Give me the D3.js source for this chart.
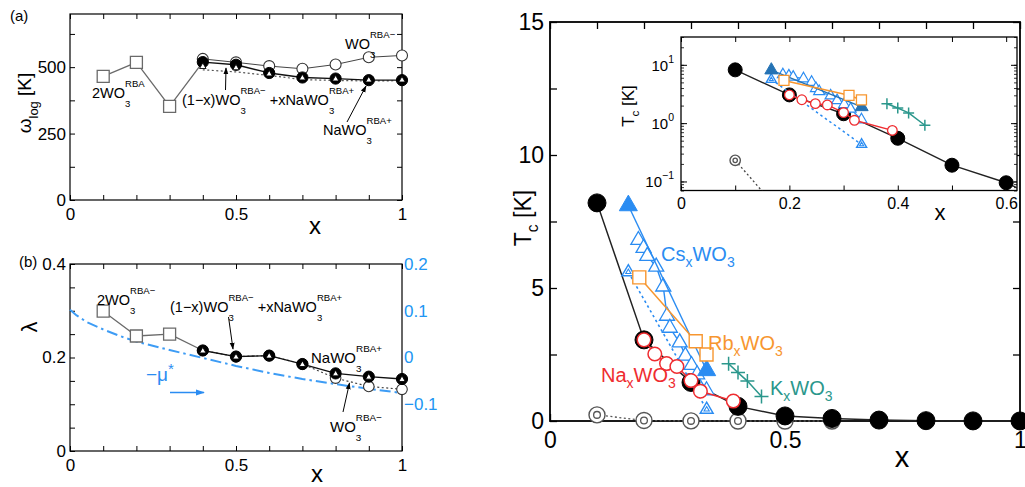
<!DOCTYPE html>
<html>
<head>
<meta charset="utf-8">
<script src="https://cdn.jsdelivr.net/npm/d3@7"></script>
<style>
  body { margin: 0; background: #fff; }
  svg { display: block; font-family: "Liberation Sans", Arial, Helvetica, sans-serif; }
</style>
</head>
<body>
<svg id="fig" width="1025" height="487"></svg>
<script>
// ---------------- data ----------------
// (a) logarithmic-average phonon frequency ω_log [K]
const aSqX = [0.1, 0.2, 0.3, 0.4];
const aSqW = [465, 518, 352, 519];              // 2WO3^RBA (markers on first three)
const aX = [0.4, 0.5, 0.6, 0.7, 0.8, 0.9, 1.0];
const aWminus = [531, 518, 504, 494, 510, 537, 544];   // WO3^RBA-
const aWmix = [519, 509, 478, 461, 457, 451, 451];     // (1-x)WO3^RBA- + xNaWO3^RBA+
const aWplus = [502, 497, 474, 459, 455, 451, 451];    // NaWO3^RBA+ (triangles)
const aWdot = [490, 482, 469, 453, 450, 448, 449];     // dotted curve

// (b) electron-phonon coupling λ and -μ*
const bSqX = [0.1, 0.2, 0.3, 0.4];
const bSqL = [0.299, 0.246, 0.25, 0.215];
const bX = [0.4, 0.5, 0.6, 0.7, 0.8, 0.9, 1.0];
const bLmix = [0.215, 0.202, 0.204, 0.186, 0.166, 0.159, 0.154];
const bLminus = [0.215, 0.202, 0.204, 0.186, 0.156, 0.138, 0.132];
const muX = [0, 0.02, 0.05, 0.1, 0.15, 0.2, 0.3, 0.4, 0.5, 0.6, 0.7, 0.8, 0.9, 1.0];
const muV = [0.102, 0.09, 0.076, 0.06, 0.046, 0.034, 0.016, -0.001, -0.018, -0.033, -0.046, -0.057, -0.067, -0.076];

// Tc [K] versus x
const blkX = [0.1, 0.2, 0.3, 0.4, 0.5, 0.6, 0.7, 0.8, 0.9, 1.0];
const blkT = [8.2, 3.05, 1.45, 0.55, 0.19, 0.095, 0.035, 0.012, 0.004, 0.0015];
const grX = [0.1, 0.2, 0.3, 0.4, 0.5, 0.6];
const grT = [0.23, 0.02, 0.004, 0.001, 0.0003, 0.0001];
const naX = [0.2, 0.223, 0.248, 0.27, 0.3, 0.32, 0.39];
const naT = [3.05, 2.52, 2.16, 2.05, 1.52, 1.12, 0.75];
const csFillX = [1 / 6, 1 / 3];
const csFillT = [8.1, 1.9];
const csOpenX = [0.188, 0.199, 0.207, 0.226, 0.241, 0.249, 0.255, 0.276, 0.288, 0.301, 0.313, 0.333];
const csOpenT = [6.8, 6.5, 6.2, 5.8, 5.05, 3.95, 3.5, 2.95, 2.45, 2.1, 1.75, 1.15];
const csDotX = [1 / 6, 1 / 3];
const csDotT = [5.6, 0.43];
const rbX = [0.19, 0.31, 0.333];
const rbT = [5.4, 3.0, 2.5];
const kX = [0.38, 0.40, 0.42, 0.45];
const kT = [2.15, 1.82, 1.5, 0.92];

// ticks and labels
const xTicks10 = [0, 0.1, 0.2, 0.3, 0.4, 0.5, 0.6, 0.7, 0.8, 0.9, 1];
const xLabels = [0, 0.5, 1];
const aYTicks = [0, 125, 250, 375, 500, 625];
const aYLabels = [0, 250, 500];
const bYTicks = [0, 0.05, 0.1, 0.15, 0.2, 0.25, 0.3, 0.35, 0.4];
const bYLabels = [0, 0.2, 0.4];
const bY2Ticks = [-0.2, -0.15, -0.1, -0.05, 0, 0.05, 0.1, 0.15, 0.2];
const bY2Labels = [-0.1, 0, 0.1, 0.2];
const mYTicks = [0, 2.5, 5, 7.5, 10, 12.5, 15];
const mYLabels = [0, 5, 10, 15];
const iXTicks = [0, 0.1, 0.2, 0.3, 0.4, 0.5, 0.6];
const iXLabels = [0, 0.2, 0.4, 0.6];
const iYLabels = [0.1, 1, 10];
const iYExp = ["−1", "0", "1"];

// colours
const BLUE = "#2a8cf2", DBLUE = "#2472b4", ORANGE = "#f7962f", RED = "#ef2c30",
      TEAL = "#2b978c", GRAY = "#6a6a6a", AXBLUE = "#2196f3";

// ---------------- helpers ----------------
const svg = d3.select("#fig");
const defs = svg.append("defs");
const fmt = d3.format("~g");
const pair = (xs, ys) => xs.map((x, i) => [x, ys[i]]);

function arrowMarker(id, color, size) {
  defs.append("marker").attr("id", id).attr("viewBox", "0 0 10 10")
    .attr("refX", 9).attr("refY", 5).attr("markerWidth", size).attr("markerHeight", size)
    .attr("markerUnits", "userSpaceOnUse").attr("orient", "auto")
    .append("path").attr("d", "M0,1.5 L10,5 L0,8.5 z").attr("fill", color);
}
arrowMarker("arrK", "#000", 7);
arrowMarker("arrB", BLUE, 9);

// text with sub/superscripts; "back" stacks a superscript over the preceding subscript
function rich(g, x, y, parts, o) {
  const size = o.size, subK = o.subK ?? 0.3, supK = o.supK ?? 0.55, small = o.small ?? 0.68;
  const t = g.append("text").attr("x", x).attr("y", y).attr("font-size", size)
    .attr("fill", o.color || "#000").attr("text-anchor", o.anchor || "start");
  let cur = 0, prevLen = 0;
  parts.forEach(p => {
    const ts = t.append("tspan").text(p.t);
    let target = 0;
    if (p.s === "sub") { target = size * subK; ts.attr("font-size", size * small); }
    else if (p.s === "sup") { target = -size * supK; ts.attr("font-size", size * small); }
    ts.attr("dy", target - cur);
    cur = target;
    if (p.back) ts.attr("dx", -prevLen);
    prevLen = ts.node().getComputedTextLength();
  });
  return t;
}

function axis(g, gen, tr, o) {
  const a = g.append("g").attr("transform", tr).call(gen);
  a.select(".domain").remove();
  a.attr("font-family", null).attr("font-size", o.size || 16);
  a.selectAll("line").attr("stroke", o.stroke || "#000").attr("stroke-width", o.sw || 1);
  a.selectAll("text").attr("fill", o.color || "#000");
  return a;
}
const lbl = arr => d => arr.some(v => Math.abs(v - d) < 1e-9) ? fmt(d).replace("-", "−") : "";

function line(g, data, sx, sy, stroke, sw, dash) {
  g.append("path").datum(data)
    .attr("d", d3.line().x(d => sx(d[0])).y(d => sy(d[1])))
    .attr("fill", "none").attr("stroke", stroke).attr("stroke-width", sw)
    .attr("stroke-dasharray", dash || null).attr("stroke-linejoin", "round");
}
function circles(g, data, sx, sy, r, fill, stroke, sw) {
  g.selectAll(null).data(data).enter().append("circle")
    .attr("cx", d => sx(d[0])).attr("cy", d => sy(d[1])).attr("r", r)
    .attr("fill", fill).attr("stroke", stroke).attr("stroke-width", sw);
}
function symbols(g, data, sx, sy, type, side, fill, stroke, sw, dy) {
  const area = type === d3.symbolTriangle ? Math.sqrt(3) / 4 * side * side : side * side;
  g.selectAll(null).data(data).enter().append("path")
    .attr("d", d3.symbol(type, area))
    .attr("transform", d => `translate(${sx(d[0])},${sy(d[1]) + (dy || 0)})`)
    .attr("fill", fill).attr("stroke", stroke).attr("stroke-width", sw);
}
function bullseye(g, data, sx, sy, r, color) {
  circles(g, data, sx, sy, r, "#fff", color, 1.4);
  circles(g, data, sx, sy, r * 0.42, "#fff", color, 1.3);
}
function dotTri(g, data, sx, sy, side, color) {
  symbols(g, data, sx, sy, d3.symbolTriangle, side, "#fff", color, 1.4);
  symbols(g, data, sx, sy, d3.symbolTriangle, side * 0.4, "#fff", color, 1.1);
}
function crosses(g, data, sx, sy, h, color) {
  g.selectAll(null).data(data).enter().append("path")
    .attr("d", `M${-h},0H${h}M0,${-h}V${h}`)
    .attr("transform", d => `translate(${sx(d[0])},${sy(d[1])})`)
    .attr("stroke", color).attr("stroke-width", 1.5).attr("fill", "none");
}
function frame(g, x0, y0, x1, y1, sw, fill) {
  g.append("rect").attr("x", x0).attr("y", y0).attr("width", x1 - x0).attr("height", y1 - y0)
    .attr("fill", fill || "none").attr("stroke", "#000").attr("stroke-width", sw);
}
function arrow(g, x1, y1, x2, y2, color, sw, id) {
  g.append("line").attr("x1", x1).attr("y1", y1).attr("x2", x2).attr("y2", y2)
    .attr("stroke", color).attr("stroke-width", sw).attr("marker-end", `url(#${id})`);
}
const WO = (pre, sup) => [{ t: pre + "WO" }, { t: "3", s: "sub" }, { t: sup, s: "sup", back: true }];

// ---------------- panel (a) ----------------
const xA = d3.scaleLinear().domain([0, 1]).range([70, 402]);
const yA = d3.scaleLinear().domain([0, 700]).range([200, 14]);
const gA = svg.append("g");
frame(gA, 70, 14, 402, 200, 1.2);
axis(gA, d3.axisBottom(xA).tickValues(xTicks10).tickSize(-5).tickPadding(8).tickFormat(lbl(xLabels)), "translate(0,200)", { size: 17 });
axis(gA, d3.axisTop(xA).tickValues(xTicks10).tickSize(-5).tickFormat(""), "translate(0,14)", {});
axis(gA, d3.axisLeft(yA).tickValues(aYTicks).tickSize(-5).tickPadding(4).tickFormat(lbl(aYLabels)), "translate(70,0)", { size: 17 });
axis(gA, d3.axisRight(yA).tickValues(aYTicks).tickSize(-5).tickFormat(""), "translate(402,0)", {});

line(gA, pair(aSqX, aSqW), xA, yA, GRAY, 1.3);
symbols(gA, pair(aSqX.slice(0, 3), aSqW.slice(0, 3)), xA, yA, d3.symbolSquare, 12, "#fff", GRAY, 1.3);
line(gA, pair(aX, aWminus), xA, yA, "#444", 1);
line(gA, pair(aX, aWdot), xA, yA, "#555", 1.2, "2,2.5");
circles(gA, pair(aX, aWminus), xA, yA, 5.5, "#fff", "#333", 1.1);
line(gA, pair(aX, aWmix), xA, yA, "#111", 1.3);
circles(gA, pair(aX, aWmix), xA, yA, 5.6, "#000", "#000", 1);
symbols(gA, pair(aX, aWplus), xA, yA, d3.symbolTriangle, 6.5, "#fff", "#000", 0.9);

gA.append("text").attr("x", 10).attr("y", 21).attr("font-size", 15).text("(a)");
gA.append("text").attr("x", 315).attr("y", 234).attr("font-size", 24).attr("text-anchor", "middle").text("x");
{
  const gl = gA.append("g").attr("transform", "translate(31,103) rotate(-90)");
  rich(gl, 0, 0, [{ t: "ω" }, { t: "log", s: "sub" }, { t: " [K]" }], { size: 19, anchor: "middle", subK: 0.35 });
}
rich(gA, 92, 98, WO("2", "RBA"), { size: 14.5, subK: 0.6, supK: 0.75, small: 0.66 });
rich(gA, 345, 49, WO("", "RBA−"), { size: 14.5, subK: 0.6, supK: 0.75, small: 0.66 });
rich(gA, 182, 105, [{ t: "(1−x)WO" }, { t: "3", s: "sub" }, { t: "RBA−", s: "sup", back: true },
  { t: " +xNaWO" }, { t: "3", s: "sub" }, { t: "RBA+", s: "sup", back: true }],
  { size: 14.5, subK: 0.6, supK: 0.75, small: 0.66 });
rich(gA, 323, 135, WO("Na", "RBA+"), { size: 14.5, subK: 0.6, supK: 0.75, small: 0.66 });
arrow(gA, 225.5, 90, 226, 68, "#000", 1, "arrK");
arrow(gA, 347, 122, 366, 86, "#000", 1, "arrK");

// ---------------- panel (b) ----------------
const xB = d3.scaleLinear().domain([0, 1]).range([70, 402]);
const yB = d3.scaleLinear().domain([0, 0.4]).range([451, 264]);
const yB2 = d3.scaleLinear().domain([-0.2, 0.2]).range([451, 264]);
const gB = svg.append("g");
defs.append("clipPath").attr("id", "clipLeft").append("rect")
  .attr("x", 0).attr("y", 0).attr("width", 423).attr("height", 487);
frame(gB, 70, 264, 402, 451, 1.2);
axis(gB, d3.axisBottom(xB).tickValues(xTicks10).tickSize(-5).tickPadding(8).tickFormat(lbl(xLabels)), "translate(0,451)", { size: 17 });
axis(gB, d3.axisTop(xB).tickValues(xTicks10).tickSize(-5).tickFormat(""), "translate(0,264)", {});
axis(gB, d3.axisLeft(yB).tickValues(bYTicks).tickSize(-5).tickPadding(4).tickFormat(lbl(bYLabels)), "translate(70,0)", { size: 17 });
axis(gB, d3.axisRight(yB2).tickValues(bY2Ticks).tickSize(-5).tickPadding(2).tickFormat(lbl(bY2Labels)), "translate(402,0)", { size: 17, color: AXBLUE })
  .attr("clip-path", "url(#clipLeft)");

line(gB, pair(muX, muV), xB, yB2, "#3d9cf5", 2, "11,4,2.5,4");
line(gB, pair(bSqX, bSqL), xB, yB, GRAY, 1.3);
symbols(gB, pair(bSqX.slice(0, 3), bSqL.slice(0, 3)), xB, yB, d3.symbolSquare, 12, "#fff", GRAY, 1.3);
line(gB, pair(bX, bLminus), xB, yB, "#444", 1.2, "2,2.5");
circles(gB, pair(bX, bLminus), xB, yB, 5.3, "#fff", "#333", 1.1);
line(gB, pair(bX, bLmix), xB, yB, "#111", 1.3);
circles(gB, pair(bX, bLmix), xB, yB, 5.6, "#000", "#000", 1);
symbols(gB, pair(bX, bLmix), xB, yB, d3.symbolTriangle, 6.5, "#fff", "#000", 0.9, 0.6);

gB.append("text").attr("x", 19).attr("y", 267).attr("font-size", 15).text("(b)");
gB.append("text").attr("x", 317).attr("y", 482).attr("font-size", 24).attr("text-anchor", "middle").text("x");
gB.append("text").attr("transform", "translate(37,327) rotate(-90)").attr("font-size", 22)
  .attr("text-anchor", "middle").text("λ");
rich(gB, 97, 305, WO("2", "RBA−"), { size: 14.5, subK: 0.6, supK: 0.75, small: 0.66 });
rich(gB, 170, 312, [{ t: "(1−x)WO" }, { t: "3", s: "sub" }, { t: "RBA−", s: "sup", back: true },
  { t: " +xNaWO" }, { t: "3", s: "sub" }, { t: "RBA+", s: "sup", back: true }],
  { size: 14.5, subK: 0.6, supK: 0.75, small: 0.66 });
rich(gB, 311, 363, WO("Na", "RBA+"), { size: 15, subK: 0.6, supK: 0.75, small: 0.66 });
rich(gB, 330, 432, WO("", "RBA−"), { size: 15, subK: 0.6, supK: 0.75, small: 0.66 });
arrow(gB, 228.5, 317, 233, 349, "#000", 1, "arrK");
arrow(gB, 343, 412, 349.5, 383, "#000", 1, "arrK");
rich(gB, 146, 381, [{ t: "−μ" }, { t: "*", s: "sup" }], { size: 19, color: BLUE, supK: 0.35, small: 0.8 });
arrow(gB, 170, 392.5, 204, 392.5, BLUE, 1.6, "arrB");

// ---------------- main panel: Tc ----------------
const xM = d3.scaleLinear().domain([0, 1]).range([550, 1020]);
const yM = d3.scaleLinear().domain([0, 15]).range([421, 22]);
const gM = svg.append("g");
frame(gM, 550, 22, 1020, 421, 1.8);
axis(gM, d3.axisBottom(xM).tickValues(xTicks10).tickSize(-7).tickPadding(11).tickFormat(lbl(xLabels)), "translate(0,421)", { size: 23, sw: 1.3 });
axis(gM, d3.axisTop(xM).tickValues(xTicks10).tickSize(-7).tickFormat(""), "translate(0,22)", { sw: 1.3 });
axis(gM, d3.axisLeft(yM).tickValues(mYTicks).tickSize(-7).tickPadding(6).tickFormat(lbl(mYLabels)), "translate(550,0)", { size: 23, sw: 1.3 });
axis(gM, d3.axisRight(yM).tickValues(mYTicks).tickSize(-7).tickFormat(""), "translate(1020,0)", { sw: 1.3 });

line(gM, pair(grX, grT), xM, yM, "#555", 1.3, "2,2.5");
bullseye(gM, pair(grX, grT), xM, yM, 8, "#555");
line(gM, pair(blkX, blkT), xM, yM, "#222", 1.5);
circles(gM, pair(blkX, blkT), xM, yM, 9, "#000", "#000", 1);
line(gM, pair(csDotX, csDotT), xM, yM, BLUE, 1.6, "2.5,3");
dotTri(gM, pair(csDotX, csDotT), xM, yM, 13, BLUE);
line(gM, pair(csOpenX, csOpenT), xM, yM, BLUE, 1.4);
symbols(gM, pair(csOpenX, csOpenT), xM, yM, d3.symbolTriangle, 15, "#fff", BLUE, 1.3);
line(gM, pair(csFillX, csFillT), xM, yM, BLUE, 1.4);
symbols(gM, pair(csFillX, csFillT), xM, yM, d3.symbolTriangle, 18, BLUE, BLUE, 1);
line(gM, pair(rbX, rbT), xM, yM, ORANGE, 1.5);
symbols(gM, pair(rbX, rbT), xM, yM, d3.symbolSquare, 13, "#fff", ORANGE, 1.4);
line(gM, pair(kX, kT), xM, yM, TEAL, 1.5);
crosses(gM, pair(kX, kT), xM, yM, 7, TEAL);
line(gM, pair(naX, naT), xM, yM, RED, 1.5);
circles(gM, pair(naX, naT), xM, yM, 6.8, "#fff", RED, 1.5);

gM.append("text").attr("x", 902).attr("y", 467).attr("font-size", 29).attr("text-anchor", "middle").text("x");
{
  const gl = gM.append("g").attr("transform", "translate(531,218) rotate(-90)");
  rich(gl, 0, 0, [{ t: "T" }, { t: "c", s: "sub" }, { t: " [K]" }], { size: 23, anchor: "middle", subK: 0.3 });
}
const subLbl = (a, b) => [{ t: a }, { t: "x", s: "sub" }, { t: "WO" }, { t: "3", s: "sub" }];
rich(gM, 661, 261, subLbl("Cs"), { size: 20, color: BLUE, subK: 0.32, small: 0.7 });
rich(gM, 708, 350, subLbl("Rb"), { size: 20, color: ORANGE, subK: 0.32, small: 0.7 });
rich(gM, 601, 382, subLbl("Na"), { size: 20, color: RED, subK: 0.32, small: 0.7 });
rich(gM, 770, 395, subLbl("K"), { size: 20, color: TEAL, subK: 0.32, small: 0.7 });

// ---------------- inset: log scale ----------------
const xI = d3.scaleLinear().domain([0, 0.62]).range([681, 1017]);
const yI = d3.scaleLog().domain([0.07, 30]).range([190.5, 37]);
const gI = svg.append("g");
frame(gI, 681, 37, 1017, 190.5, 1.3, "#fff");
defs.append("clipPath").attr("id", "clipInset").append("rect")
  .attr("x", 681).attr("y", 37).attr("width", 336).attr("height", 153.5);
const minorY = yI.ticks();
axis(gI, d3.axisBottom(xI).tickValues(iXTicks).tickSize(-5).tickPadding(7).tickFormat(lbl(iXLabels)), "translate(0,190.5)", { size: 16 });
axis(gI, d3.axisTop(xI).tickValues(iXTicks).tickSize(-5).tickFormat(""), "translate(0,37)", {});
axis(gI, d3.axisLeft(yI).tickValues(minorY).tickSize(-3).tickFormat(""), "translate(681,0)", { sw: 0.8 });
axis(gI, d3.axisLeft(yI).tickValues(iYLabels).tickSize(-6).tickFormat(""), "translate(681,0)", {});
axis(gI, d3.axisRight(yI).tickValues(minorY).tickSize(-3).tickFormat(""), "translate(1017,0)", { sw: 0.8 });
axis(gI, d3.axisRight(yI).tickValues(iYLabels).tickSize(-6).tickFormat(""), "translate(1017,0)", {});
iYLabels.forEach((v, i) => {
  rich(gI, 674, yI(v) + 6, [{ t: "10" }, { t: iYExp[i], s: "sup" }], { size: 15, anchor: "end", supK: 0.55, small: 0.7 });
});
gI.append("text").attr("x", 940).attr("y", 220).attr("font-size", 22).attr("text-anchor", "middle").text("x");
{
  const gl = gI.append("g").attr("transform", "translate(634,106) rotate(-90)");
  rich(gl, 0, 0, [{ t: "T" }, { t: "c", s: "sub" }, { t: " [K]" }], { size: 17, anchor: "middle", subK: 0.3 });
}

const gIp = gI.append("g").attr("clip-path", "url(#clipInset)");
line(gIp, pair(grX, grT), xI, yI, "#444", 1.3, "2,2.5");
bullseye(gIp, pair(grX, grT), xI, yI, 5.2, "#555");
line(gIp, pair(blkX, blkT), xI, yI, "#222", 1.4);
circles(gIp, pair(blkX, blkT), xI, yI, 7, "#000", "#000", 1);
line(gIp, pair(csDotX, csDotT), xI, yI, BLUE, 1.5, "2.5,3");
dotTri(gIp, pair(csDotX, csDotT), xI, yI, 10, BLUE);
line(gIp, pair(csOpenX, csOpenT), xI, yI, BLUE, 1.3);
symbols(gIp, pair(csOpenX, csOpenT), xI, yI, d3.symbolTriangle, 11, "#fff", BLUE, 1.2);
line(gIp, pair(csFillX, csFillT), xI, yI, DBLUE, 1.4);
symbols(gIp, pair(csFillX, csFillT), xI, yI, d3.symbolTriangle, 13, DBLUE, DBLUE, 1);
line(gIp, pair(rbX, rbT), xI, yI, ORANGE, 1.5);
symbols(gIp, pair(rbX, rbT), xI, yI, d3.symbolSquare, 10, "#fff", ORANGE, 1.3);
line(gIp, pair(kX, kT), xI, yI, TEAL, 1.5);
crosses(gIp, pair(kX, kT), xI, yI, 5.5, TEAL);
line(gIp, pair(naX, naT), xI, yI, RED, 1.4);
circles(gIp, pair(naX, naT), xI, yI, 4.8, "#fff", RED, 1.3);
</script>
</body>
</html>
